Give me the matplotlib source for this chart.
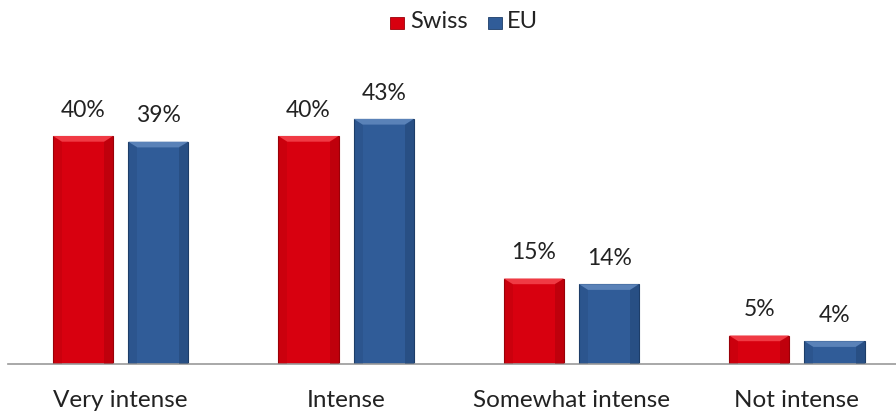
import numpy as np
import matplotlib.pyplot as plt
from matplotlib.patches import Rectangle, Polygon

categories = ["Very intense", "Intense", "Somewhat intense", "Not intense"]
swiss = [40, 40, 15, 5]
eu = [39, 43, 14, 4]
series_names = ["Swiss", "EU"]

red = "#d8000f"
red_dark = "#9a0008"
red_light = "#f03a44"
blue = "#305c98"
blue_dark = "#1d3d68"
blue_light = "#5a82b8"

plt.rcParams['font.family'] = ['Lato', 'DejaVu Sans']

fig = plt.figure(figsize=(8.96, 4.19), dpi=100)
ax = fig.add_axes([8/896., 55/419., 888/896., 285/419.])

x = np.arange(len(categories))
w = 0.267
off = 0.167

def bevel_bars(xs, vals, face, dark, light):
    bars = ax.bar(xs, vals, w, color=face, edgecolor=dark, linewidth=0.8, zorder=2)
    for b in bars:
        x0 = b.get_x()
        h = b.get_height()
        bw = b.get_width()
        d = min(0.04, h*0.2/6)
        dy = min(1.0, h*0.25)
        # bevel: light top, shaded sides
        ax.add_patch(Polygon([[x0, h], [x0+bw, h], [x0+bw-d, h-dy], [x0+d, h-dy]],
                             closed=True, facecolor=light, edgecolor='none', zorder=3))
        ax.add_patch(Polygon([[x0+bw, h], [x0+bw, 0], [x0+bw-d, 0], [x0+bw-d, h-dy]],
                             closed=True, facecolor=dark, alpha=0.4, edgecolor='none', zorder=3))
        ax.add_patch(Polygon([[x0, h], [x0, 0], [x0+d, 0], [x0+d, h-dy]],
                             closed=True, facecolor=dark, alpha=0.2, edgecolor='none', zorder=3))
        ax.text(b.get_x()+bw/2, h+2.7, "%d%%" % h, ha='center', va='bottom',
                fontsize=16.5, color='#222222')
    return bars

bevel_bars(x-off, swiss, red, red_dark, red_light)
bevel_bars(x+off, eu, blue, blue_dark, blue_light)

ax.set_xlim(-0.5, 3.44)
ax.set_ylim(0, 50)
for s in ['top', 'right', 'left']:
    ax.spines[s].set_visible(False)
ax.spines['bottom'].set_color('#999999')
ax.spines['bottom'].set_linewidth(1.2)
ax.set_yticks([])
ax.set_xticks(x)
ax.set_xticklabels(categories, fontsize=17.5, color='#222222')
ax.tick_params(axis='x', length=0, pad=19)

# legend
fig.text(410/896., 1-22/419., series_names[0], fontsize=17, va='center', ha='left', color='#222222')
fig.text(507/896., 1-22/419., series_names[1], fontsize=17, va='center', ha='left', color='#222222')
fig.patches.append(Rectangle((390/896., 1-29/419.), 14/896., 12/419., transform=fig.transFigure,
                             facecolor=red, edgecolor=red_dark, linewidth=0.6, figure=fig))
fig.patches.append(Rectangle((488/896., 1-29/419.), 14/896., 12/419., transform=fig.transFigure,
                             facecolor=blue, edgecolor=blue_dark, linewidth=0.6, figure=fig))

plt.savefig("out.png", dpi=100)
